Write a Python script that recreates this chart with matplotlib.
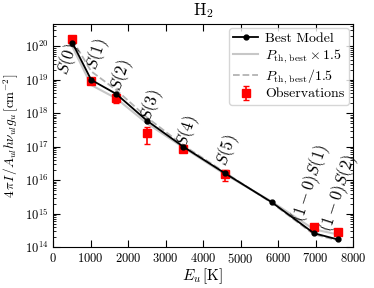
import matplotlib
matplotlib.use('Agg')
import matplotlib.pyplot as plt
from matplotlib.ticker import MultipleLocator

plt.rcParams['font.family'] = 'serif'
plt.rcParams['font.serif'] = ['cmr10', 'DejaVu Serif']
plt.rcParams['mathtext.fontset'] = 'cm'
plt.rcParams['axes.formatter.use_mathtext'] = True

# upper level energies [K]
eu = [510, 1015, 1682, 2504, 3474, 4586, 5829, 6956, 7586]
best = [1.3e20, 1.0e19, 3.8e18, 6.0e17, 1.0e17, 1.6e16, 2.2e15, 2.6e14, 1.7e14]
p_up = [1.0e20, 7.0e18, 2.8e18, 5.0e17, 0.95e17, 1.5e16, 2.3e15, 3.4e14, 2.4e14]
p_dn = [1.6e20, 1.8e19, 5.0e18, 7.5e17, 1.1e17, 1.7e16, 2.1e15, 2.4e14, 1.6e14]

obs_eu = [510, 1015, 1682, 2504, 3474, 4586, 6956, 7586]
obs = [1.7e20, 9.5e18, 2.9e18, 2.6e17, 8.5e16, 1.5e16, 3.9e14, 2.8e14]
obs_err = [0.4e20, 1.8e18, 0.9e18, 1.4e17, 1.5e16, 0.55e16, 0.5e14, 0.4e14]

labels = ['$S(0)$', '$S(1)$', '$S(2)$', '$S(3)$', '$S(4)$', '$S(5)$',
          '$(1-0)S(1)$', '$(1-0)S(2)$']
lab_x = [400, 1173, 1813, 2613, 3573, 4640, 6880, 7627]
lab_y = [4.0e19, 5.6e19, 1.4e19, 1.7e18, 2.95e17, 7.9e16, 8.3e15, 4.0e15]

fig = plt.figure(figsize=(3.74, 2.88), dpi=100)
ax = fig.add_axes([0.142, 0.142, 0.802, 0.775])

ax.plot(eu, p_up, '-', color='0.78', lw=1.5, label=r'$P_{\rm th,\,best}\times1.5$', zorder=2)
ax.plot(eu, p_dn, '--', color='0.7', lw=1.3, label=r'$P_{\rm th,\,best}/1.5$', zorder=2)
ax.plot(eu, best, '-o', color='k', lw=1.3, ms=3.5, label='Best Model', zorder=4)
ax.errorbar(obs_eu, obs, yerr=obs_err, fmt='s', color='red', ms=5.5,
            capsize=2, elinewidth=1.2, label='Observations', zorder=3)

for t, x, y in zip(labels, lab_x, lab_y):
    ax.text(x, y, t, rotation=72, ha='center', va='center', fontsize=12)

ax.set_yscale('log')
ax.set_xlim(0, 8000)
ax.set_ylim(1e14, 4.7e20)
ax.xaxis.set_major_locator(MultipleLocator(1000))
ax.tick_params(which='both', direction='in', top=True, right=True, labelsize=9)
ax.tick_params(which='major', length=5)
ax.set_title('H$_2$', fontsize=12)
ax.set_xlabel(r'$E_u\,[\rm K]$', fontsize=11, labelpad=0)
ax.set_ylabel(r'$4\,\pi I\,/A_{ul}h\nu_{ul}g_u\,[\rm cm^{-2}]$', fontsize=9.5, labelpad=3)

h, l = ax.get_legend_handles_labels()
order = [2, 0, 1, 3]
ax.legend([h[i] for i in order], [l[i] for i in order], loc='upper right',
          fontsize=10, handlelength=1.8, handletextpad=0.5, borderpad=0.3,
          labelspacing=0.15, borderaxespad=0.3)

fig.savefig('out.png', dpi=100)
